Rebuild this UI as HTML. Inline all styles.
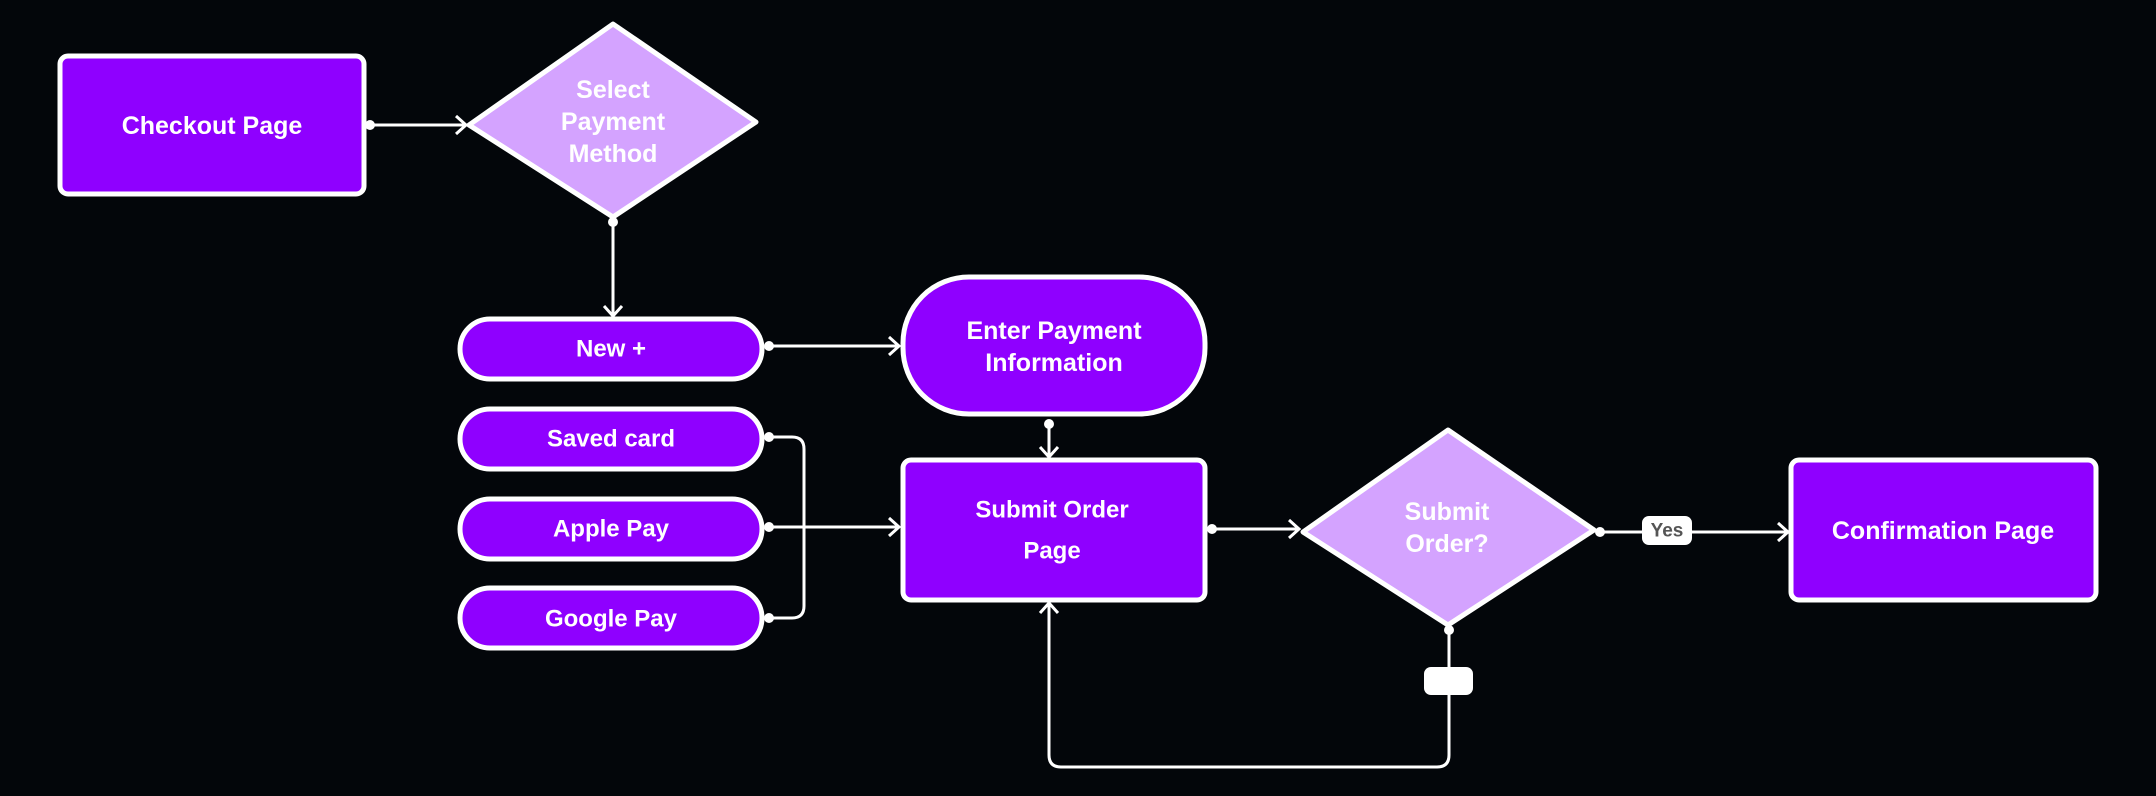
<!DOCTYPE html>
<html><head><meta charset="utf-8"><style>
html,body{margin:0;padding:0;background:#03060a;}
svg{display:block}
text{font-family:"Liberation Sans",sans-serif;font-weight:bold;fill:#fff;text-anchor:middle;dominant-baseline:central}
</style></head><body>
<svg width="2156" height="796" viewBox="0 0 2156 796" xmlns="http://www.w3.org/2000/svg">
<rect width="2156" height="796" fill="#03060a"/>
<g stroke="#fff" stroke-width="3" fill="none">
<!-- checkout -> select -->
<line x1="368" y1="125" x2="466" y2="125"/><polyline points="456,116 466,125 456,134"/>
<!-- select -> new -->
<line x1="613" y1="222" x2="613" y2="316"/><polyline points="604,306 613,316 622,306"/>
<!-- new -> enter -->
<line x1="769" y1="346" x2="899" y2="346"/><polyline points="889,337 899,346 889,355"/>
<!-- enter -> submit page -->
<line x1="1049" y1="424" x2="1049" y2="457"/><polyline points="1040,447 1049,457 1058,447"/>
<!-- saved/apple/google -> submit page -->
<path d="M769,437 H792 Q804,437 804,449 V606 Q804,618 792,618 H769"/>
<line x1="769" y1="527" x2="899" y2="527"/><polyline points="889,518 899,527 889,536"/>
<!-- submit page -> diamond -->
<line x1="1212" y1="529" x2="1299" y2="529"/><polyline points="1289,520 1299,529 1289,538"/>
<!-- diamond -> confirmation -->
<line x1="1600" y1="532" x2="1788" y2="532"/><polyline points="1778,523 1788,532 1778,541"/>
<!-- loop -->
<path d="M1449,630 V755 Q1449,767 1437,767 H1061 Q1049,767 1049,755 V603"/>
<polyline points="1040,613 1049,603 1058,613"/>
</g>
<g fill="#fff">
<circle cx="370" cy="125" r="5"/><circle cx="613" cy="222" r="5"/><circle cx="769" cy="346" r="5"/>
<circle cx="1049" cy="424" r="5"/><circle cx="769" cy="437" r="5"/><circle cx="769" cy="527" r="5"/>
<circle cx="769" cy="618" r="5"/><circle cx="1212" cy="529" r="5"/><circle cx="1600" cy="532" r="5"/>
<circle cx="1449" cy="630" r="5"/>
</g>
<g stroke="#fff" stroke-width="5" fill="#8f00ff">
<rect x="60" y="56" width="304" height="138" rx="8"/>
<rect x="460" y="319" width="302" height="60" rx="30"/>
<rect x="460" y="409" width="302" height="60" rx="30"/>
<rect x="460" y="499" width="302" height="60" rx="30"/>
<rect x="460" y="588" width="302" height="60" rx="30"/>
<rect x="903" y="277" width="302" height="137" rx="66"/>
<rect x="903" y="460" width="302" height="140" rx="8"/>
<rect x="1791" y="460" width="305" height="140" rx="8"/>
</g>
<g stroke="#fff" stroke-width="5" fill="#d4a3ff" stroke-linejoin="round">
<polygon points="613,24 756,122 613,217 469,125"/>
<polygon points="1448,430 1594,530 1448,625 1303,532"/>
</g>
<rect x="1642" y="516" width="50" height="29" rx="7" fill="#fff"/>
<text x="1667" y="531" style="fill:#555;font-size:19px">Yes</text>
<rect x="1424" y="667" width="49" height="28" rx="7" fill="#fff"/>
<text x="212" y="126" font-size="25">Checkout Page</text>
<text x="613" y="90" font-size="25">Select</text>
<text x="613" y="122" font-size="25">Payment</text>
<text x="613" y="154" font-size="25">Method</text>
<text x="611" y="349" font-size="24">New +</text>
<text x="611" y="439" font-size="24">Saved card</text>
<text x="611" y="529" font-size="24">Apple Pay</text>
<text x="611" y="619" font-size="24">Google Pay</text>
<text x="1054" y="331" font-size="25">Enter Payment</text>
<text x="1054" y="363" font-size="25">Information</text>
<text x="1052" y="510" font-size="24">Submit Order</text>
<text x="1052" y="551" font-size="24">Page</text>
<text x="1447" y="512" font-size="25">Submit</text>
<text x="1447" y="544" font-size="25">Order?</text>
<text x="1943" y="531" font-size="25">Confirmation Page</text>
</svg>
</body></html>
